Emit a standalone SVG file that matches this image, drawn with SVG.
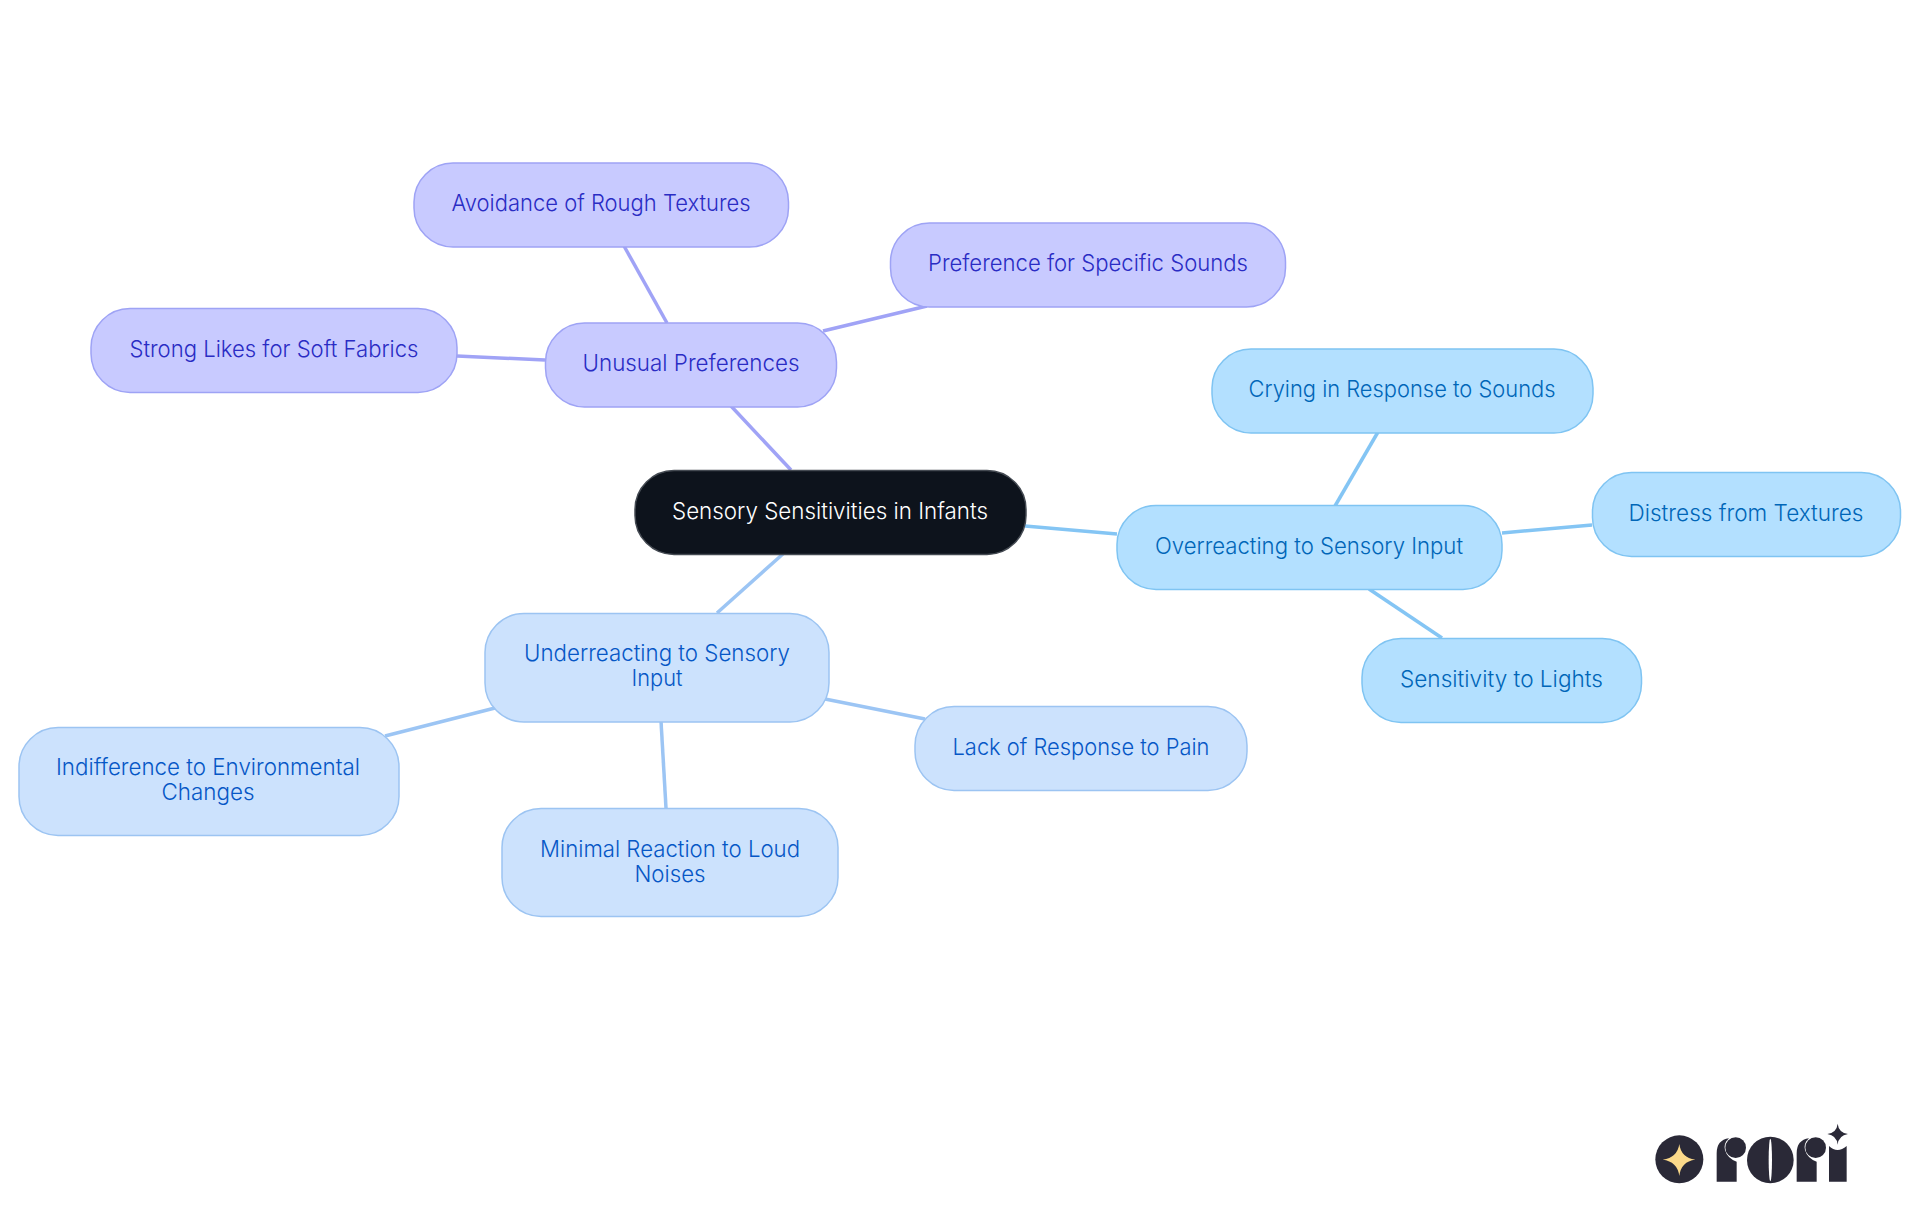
<svg xmlns="http://www.w3.org/2000/svg" width="1920" height="1215" viewBox="0 0 1920 1215">
<style>
text{font-family:"Inter","Noto Sans","Liberation Sans",sans-serif;font-size:23px;font-weight:300;text-anchor:middle}
rect{stroke-width:1.5}
#connectors line{stroke-width:3.5;fill:none}
.p line{stroke:#a0a3f6}.b line{stroke:#84c5f4}.c line{stroke:#9cc5f4}
.np rect{fill:#c8caff;stroke:#9ea3f5}.np text{fill:#2a2cc4}
.nb rect{fill:#b3e0ff;stroke:#7fc4f2}.nb text{fill:#0066b8}
.nc rect{fill:#cce2fd;stroke:#9cc4f2}.nc text{fill:#0657c6}
.logo{fill:#2a2937}
</style>
<rect width="1920" height="1215" fill="#fff" stroke="none"/>
<g id="connectors">
<g class="p"><line x1="791" y1="470" x2="731" y2="406"/><line x1="667" y1="323" x2="624" y2="246"/><line x1="823" y1="331" x2="927" y2="306"/><line x1="545" y1="360" x2="457" y2="356"/></g>
<g class="b"><line x1="1025" y1="526" x2="1117" y2="534"/><line x1="1335" y1="506" x2="1378" y2="432"/><line x1="1502" y1="533" x2="1592" y2="525"/><line x1="1369" y1="589" x2="1442" y2="638"/></g>
<g class="c"><line x1="784" y1="553" x2="717" y2="613"/><line x1="825" y1="699" x2="925" y2="719"/><line x1="495" y1="708" x2="385" y2="736"/><line x1="661" y1="721" x2="666" y2="808"/></g>
</g>
<g id="root"><rect x="635" y="470.5" width="391" height="84" rx="39" fill="#0d131c" stroke="#444a52"/><text x="830" y="519" fill="#fff" textLength="316" lengthAdjust="spacingAndGlyphs">Sensory Sensitivities in Infants</text></g>
<g id="unusual" class="np"><rect x="545.5" y="323" width="291" height="84" rx="39"/><text x="691" y="371" textLength="217" lengthAdjust="spacingAndGlyphs">Unusual Preferences</text></g>
<g id="avoidance" class="np"><rect x="414" y="163" width="374.5" height="84" rx="39"/><text x="601" y="211" textLength="299" lengthAdjust="spacingAndGlyphs">Avoidance of Rough Textures</text></g>
<g id="preference" class="np"><rect x="890.5" y="223" width="395" height="84" rx="39"/><text x="1088" y="271" textLength="320" lengthAdjust="spacingAndGlyphs">Preference for Specific Sounds</text></g>
<g id="strong" class="np"><rect x="91" y="308.5" width="366" height="84" rx="39"/><text x="274" y="357" textLength="289" lengthAdjust="spacingAndGlyphs">Strong Likes for Soft Fabrics</text></g>
<g id="overreacting" class="nb"><rect x="1117" y="505.5" width="385" height="84" rx="39"/><text x="1309" y="554" textLength="308" lengthAdjust="spacingAndGlyphs">Overreacting to Sensory Input</text></g>
<g id="crying" class="nb"><rect x="1212" y="349" width="381" height="84" rx="39"/><text x="1402" y="397" textLength="307" lengthAdjust="spacingAndGlyphs">Crying in Response to Sounds</text></g>
<g id="distress" class="nb"><rect x="1592.5" y="472.5" width="308" height="84" rx="39"/><text x="1746" y="520.5" textLength="235" lengthAdjust="spacingAndGlyphs">Distress from Textures</text></g>
<g id="sensitivity" class="nb"><rect x="1362" y="638.5" width="279.5" height="84" rx="39"/><text x="1501.5" y="687" textLength="203" lengthAdjust="spacingAndGlyphs">Sensitivity to Lights</text></g>
<g id="underreacting" class="nc"><rect x="485" y="613.5" width="344" height="108.5" rx="39"/><text x="657" y="661" textLength="266" lengthAdjust="spacingAndGlyphs">Underreacting to Sensory</text><text x="657" y="686" textLength="51" lengthAdjust="spacingAndGlyphs">Input</text></g>
<g id="lack" class="nc"><rect x="915" y="706.5" width="332" height="84" rx="39"/><text x="1081" y="755" textLength="257" lengthAdjust="spacingAndGlyphs">Lack of Response to Pain</text></g>
<g id="indifference" class="nc"><rect x="19" y="727.5" width="380" height="108" rx="39"/><text x="208" y="775" textLength="304" lengthAdjust="spacingAndGlyphs">Indifference to Environmental</text><text x="208" y="800" textLength="93" lengthAdjust="spacingAndGlyphs">Changes</text></g>
<g id="minimal" class="nc"><rect x="502" y="808.5" width="336" height="108" rx="39"/><text x="670" y="856.5" textLength="260" lengthAdjust="spacingAndGlyphs">Minimal Reaction to Loud</text><text x="670" y="881.5" textLength="71" lengthAdjust="spacingAndGlyphs">Noises</text></g>
<g id="logo" class="logo" transform="translate(1620 1090) scale(.33333)">
<circle cx="178" cy="208" r="72"/>
<path d="M178 162Q183 203 226 209Q183 214 178 258Q172 214 128 209Q172 203 178 162Z" fill="#fbd98a"/>
<path d="M290 275V190Q290 150 327 145Q310 160 315 180Q322 205 350 215V275Z"/><circle cx="347" cy="173" r="31"/>
<circle cx="451" cy="210" r="70"/><ellipse cx="451" cy="210" rx="5" ry="64" fill="#fff"/>
<path d="M530 275V190Q530 150 567 145Q550 160 555 180Q562 205 590 215V275Z"/><circle cx="587" cy="173" r="31"/>
<path d="M627 275V168Q652 192 680 168V275Z"/>
<path d="M653 101Q656 128 684 132Q656 136 653 164Q650 136 622 132Q650 128 653 101Z"/>
</g>
</svg>
